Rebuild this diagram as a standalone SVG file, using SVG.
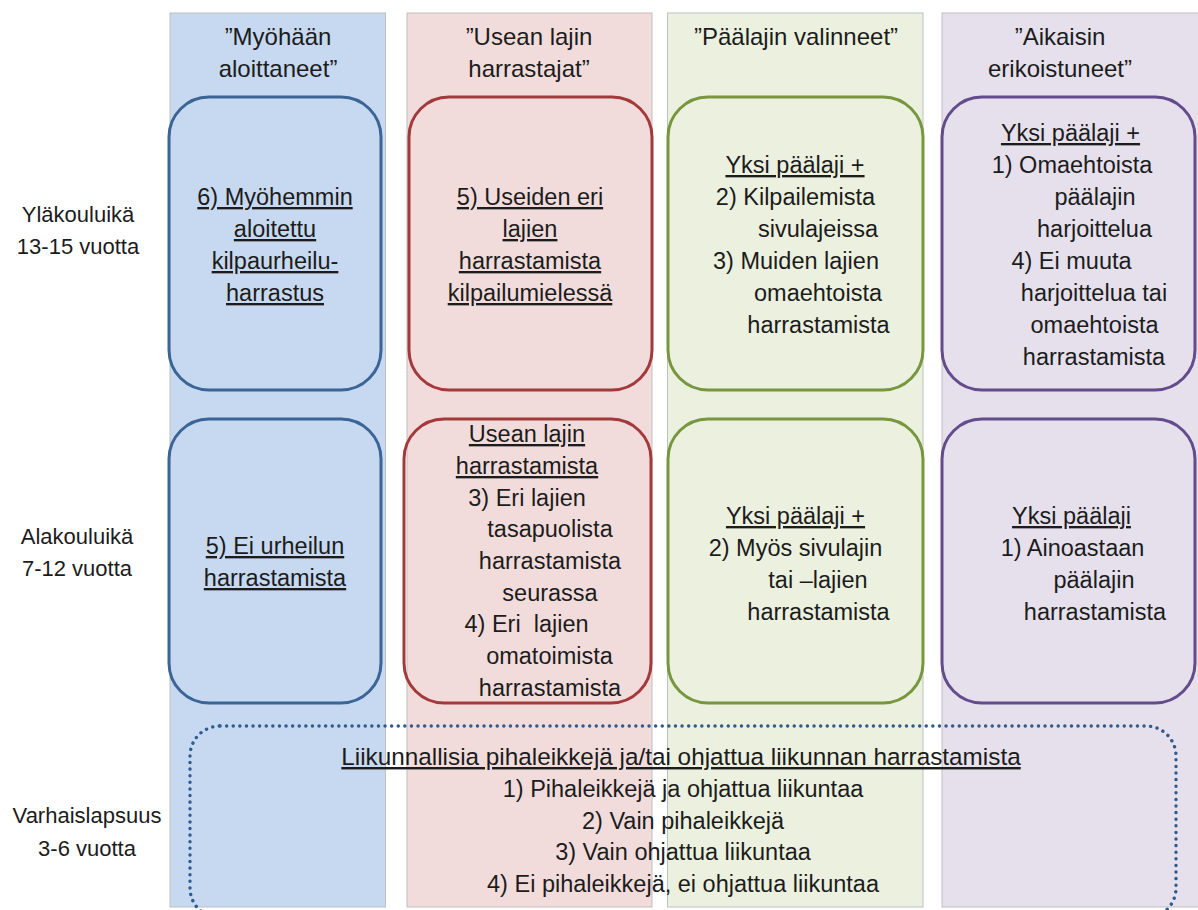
<svg xmlns="http://www.w3.org/2000/svg" width="1198" height="910" viewBox="0 0 1198 910">
<style>
text{font-family:"Liberation Sans",Arial,sans-serif;fill:#1c1c1c;text-anchor:middle}
.h{font-size:24px}
.t{font-size:23.5px}
.d{font-size:24.3px}
.l{font-size:22px}
.u{text-decoration:underline}
.col{stroke:#bfbfbf;stroke-width:1}
.box{fill:none;stroke-width:3}
.dot{fill:none;stroke:#2f5b8f;stroke-width:3.4;stroke-dasharray:0.1 6.5;stroke-linecap:round}
</style>
<rect width="1198" height="910" fill="#ffffff"/>
<g id="columns">
<rect class="col" x="170" y="13" width="215.5" height="894" fill="#c6d9f1"/>
<rect class="col" x="407" y="13" width="245" height="894" fill="#f2dcdb"/>
<rect class="col" x="667.5" y="13" width="255.5" height="894" fill="#ebf1de"/>
<rect class="col" x="942" y="13" width="260" height="894" fill="#e5e0ec"/>
</g>
<g id="headers">
<text class="h" x="278" y="45">”Myöhään</text>
<text class="h" x="278" y="77">aloittaneet”</text>
<text class="h" x="529" y="45">”Usean lajin</text>
<text class="h" x="529" y="77">harrastajat”</text>
<text class="h" x="796" y="45">”Päälajin valinneet”</text>
<text class="h" x="1060" y="45">”Aikaisin</text>
<text class="h" x="1060" y="77">erikoistuneet”</text>
</g>
<g id="row-labels">
<text class="l" x="78" y="222">Yläkouluikä</text>
<text class="l" x="78" y="254">13-15 vuotta</text>
<text class="l" x="77" y="544">Alakouluikä</text>
<text class="l" x="77" y="576">7-12 vuotta</text>
<text class="l" x="87" y="823">Varhaislapsuus</text>
<text class="l" x="87" y="856">3-6 vuotta</text>
</g>
<g id="node-blue-top">
<rect class="box" x="169" y="97" width="212" height="293" rx="40" stroke="#3b6596"/>
<text class="t u" x="275" y="205">6) Myöhemmin</text>
<text class="t u" x="275" y="237">aloitettu</text>
<text class="t u" x="275" y="269">kilpaurheilu-</text>
<text class="t u" x="275" y="301">harrastus</text>
</g>
<g id="node-red-top">
<rect class="box" x="409" y="97" width="243" height="293" rx="40" stroke="#a23a3b"/>
<text class="t u" x="530" y="205">5) Useiden eri</text>
<text class="t u" x="530" y="237">lajien</text>
<text class="t u" x="530" y="269">harrastamista</text>
<text class="t u" x="530" y="301">kilpailumielessä</text>
</g>
<g id="node-green-top">
<rect class="box" x="668" y="97" width="255" height="293" rx="40" stroke="#77963d"/>
<text class="t u" x="795" y="173">Yksi päälaji +</text>
<text class="t" x="795.5" y="205">2) Kilpailemista</text>
<text class="t" x="818" y="237">sivulajeissa</text>
<text class="t" x="796" y="269">3) Muiden lajien</text>
<text class="t" x="818" y="301">omaehtoista</text>
<text class="t" x="818.5" y="333">harrastamista</text>
</g>
<g id="node-purple-top">
<rect class="box" x="942" y="97" width="253" height="293" rx="40" stroke="#634b8c"/>
<text class="t u" x="1070.5" y="141">Yksi päälaji +</text>
<text class="t" x="1072" y="173">1) Omaehtoista</text>
<text class="t" x="1095" y="205">päälajin</text>
<text class="t" x="1094.5" y="237">harjoittelua</text>
<text class="t" x="1071.5" y="269">4) Ei muuta</text>
<text class="t" x="1094" y="301">harjoittelua tai</text>
<text class="t" x="1094.5" y="333">omaehtoista</text>
<text class="t" x="1094" y="365">harrastamista</text>
</g>
<g id="node-blue-bottom">
<rect class="box" x="169" y="419" width="212" height="284" rx="40" stroke="#3b6596"/>
<text class="t u" x="275" y="554">5) Ei urheilun</text>
<text class="t u" x="275" y="586">harrastamista</text>
</g>
<g id="node-red-bottom">
<rect class="box" x="404" y="419" width="247" height="284" rx="40" stroke="#a23a3b"/>
<text class="t u" x="527" y="442">Usean lajin</text>
<text class="t u" x="527" y="474">harrastamista</text>
<text class="t" x="527" y="506">3) Eri lajien</text>
<text class="t" x="550" y="537">tasapuolista</text>
<text class="t" x="550" y="569">harrastamista</text>
<text class="t" x="550" y="601">seurassa</text>
<text class="t" x="526.5" y="632" xml:space="preserve">4) Eri  lajien</text>
<text class="t" x="549.5" y="664">omatoimista</text>
<text class="t" x="550" y="696">harrastamista</text>
</g>
<g id="node-green-bottom">
<rect class="box" x="668" y="419" width="255" height="284" rx="40" stroke="#77963d"/>
<text class="t u" x="795.5" y="524">Yksi päälaji +</text>
<text class="t" x="795.5" y="556">2) Myös sivulajin</text>
<text class="t" x="818" y="588">tai –lajien</text>
<text class="t" x="818.5" y="620">harrastamista</text>
</g>
<g id="node-purple-bottom">
<rect class="box" x="942" y="419" width="253" height="284" rx="40" stroke="#634b8c"/>
<text class="t u" x="1071.5" y="524">Yksi päälaji</text>
<text class="t" x="1072.5" y="556">1) Ainoastaan</text>
<text class="t" x="1094" y="588">päälajin</text>
<text class="t" x="1095" y="620">harrastamista</text>
</g>
<g id="node-early-childhood">
<rect class="dot" x="190" y="726" width="986" height="192" rx="30"/>
<text class="d u" x="681" y="765">Liikunnallisia pihaleikkejä ja/tai ohjattua liikunnan harrastamista</text>
<text class="t" x="683" y="797">1) Pihaleikkejä ja ohjattua liikuntaa</text>
<text class="t" x="683" y="829">2) Vain pihaleikkejä</text>
<text class="t" x="683" y="860">3) Vain ohjattua liikuntaa</text>
<text class="t" x="683" y="892">4) Ei pihaleikkejä, ei ohjattua liikuntaa</text>
</g>
<g id="connectors"/>
</svg>
